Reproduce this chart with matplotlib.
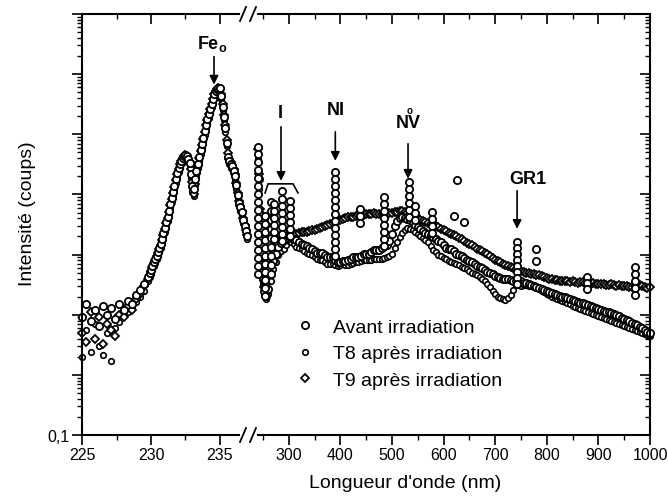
"""
Spectre de luminescence avant / apres irradiation, axe des longueurs d'onde coupe.
Sortie : out.png (668x502 px).
"""

import matplotlib

matplotlib.use("Agg")

import matplotlib.pyplot as plt
from matplotlib.lines import Line2D
from matplotlib.ticker import FixedLocator, FuncFormatter, LogLocator, NullFormatter

plt.rcParams["font.family"] = ["Liberation Sans", "DejaVu Sans"]
plt.rcParams["mathtext.fontset"] = "custom"
plt.rcParams["mathtext.rm"] = "Liberation Sans"
plt.rcParams["mathtext.bf"] = "Liberation Sans:bold"

SERIES_LABELS = ["Avant irradiation", "T8 après irradiation", "T9 après irradiation"]

# --- partie gauche de l'axe (225-237 nm) ---
wl_left = [225.0, 225.3, 225.6, 225.9, 226.2, 226.5, 226.8, 227.1, 227.4, 227.7,
           228.0, 228.3, 228.6, 228.9, 229.2, 229.5,
           229.8, 229.9, 230.0, 230.1, 230.2, 230.3, 230.4, 230.5, 230.6, 230.7,
           230.8, 230.9, 231.0, 231.1, 231.2, 231.3, 231.4, 231.5, 231.6, 231.7,
           231.8, 231.9, 232.0, 232.1, 232.2, 232.3, 232.4, 232.5, 232.6, 232.7,
           232.8, 232.9, 233.0, 233.1, 233.2, 233.3, 233.4, 233.5, 233.6, 233.7,
           233.8, 233.9, 234.0, 234.1, 234.2, 234.3, 234.4, 234.5, 234.6, 234.7,
           234.8, 234.9, 235.0, 235.1, 235.2, 235.3, 235.4, 235.5, 235.6, 235.7,
           235.8, 235.9, 236.0, 236.1, 236.2, 236.3, 236.4, 236.5, 236.6, 236.7,
           236.8, 236.9, 237.0]
avant_left = [9.0, 15, 8.0, 12, 6.5, 14, 10, 13, 8.5, 15,
              12, 17, 15, 21, 26, 33,
              43, 50, 56, 65, 76, 85, 96, 111, 127, 151,
              183, 230, 278, 350, 424, 533, 698, 878, 1105, 1390,
              1818, 2288, 2771, 3230, 3623, 4064, 4389, 4560, 4389, 3912,
              3356, 2202, 1390, 1239, 1818, 2470, 3230, 4223, 5524, 6948,
              8745, 11440, 14390, 18110, 21940, 26570, 32180, 38960, 47200, 52900,
              57200, 59400, 59400, 43700, 28680, 19560, 12830, 7222, 4223, 3623,
              3230, 2992, 2470, 2039, 1444, 985, 725, 622, 513, 378,
              300, 248, 205]
t8_left = [2.0, 5.5, 2.4, 7.0, 3.0, 2.1, 5.0, 1.7, 6.0, 7.5,
           10, 11, 13, 16, 20, 25,
           36, 42, 48, 56, 65, 73, 83, 95, 110, 130,
           158, 198, 240, 300, 365, 460, 600, 760, 950, 1200,
           1570, 1980, 2400, 2800, 3150, 3500, 3800, 3950, 3800, 3400,
           2900, 1900, 1150, 950, 1450, 2050, 2750, 3600, 4700, 5900,
           7500, 9800, 12400, 15600, 19000, 23000, 28000, 34000, 41000, 46500,
           50500, 52500, 52000, 38000, 25000, 17000, 11000, 6300, 3700, 3150,
           2800, 2600, 2150, 1770, 1250, 860, 630, 540, 445, 330,
           260, 215, 180]
t9_left = [5.0, 3.5, 11, 4.0, 9.0, 3.3, 7.0, 5.5, 4.4, 10,
           9.0, 14, 12, 18, 22, 30,
           40, 46, 54, 62, 72, 82, 94, 106, 122, 145,
           172, 215, 262, 330, 405, 505, 660, 840, 1060, 1330,
           1740, 2200, 2680, 3150, 3550, 4000, 4300, 4450, 4300, 3950,
           3500, 2600, 1600, 1000, 1500, 2200, 3000, 4000, 5300, 6700,
           8500, 11000, 14000, 17600, 21500, 26000, 31500, 38000, 46000, 52000,
           56500, 58500, 57000, 47000, 31500, 21000, 14000, 8000, 4800, 3900,
           3400, 3100, 2600, 2150, 1550, 1050, 780, 650, 540, 400,
           315, 260, 215]

# --- partie droite de l'axe (240-1000 nm) ---
wl_right = [240, 242, 244, 246, 248, 250, 253, 256, 260, 265, 270, 275, 280, 285, 290, 295,
            300, 305, 310, 315, 320, 325, 330, 335, 340, 345,
            350, 355, 360, 365, 370, 375, 380, 385, 390, 395,
            400, 405, 410, 415, 420, 425, 430, 435, 440, 445,
            450, 455, 460, 465, 470, 475, 480, 485, 490, 495,
            500, 505, 510, 515, 520, 525, 530, 535, 540, 545,
            550, 555, 560, 565, 570, 575, 580, 585, 590, 595,
            600, 605, 610, 615, 620, 625, 630, 635, 640, 645,
            650, 655, 660, 665, 670, 675, 680, 685, 690, 695,
            700, 705, 710, 715, 720, 725, 730, 735, 740, 745,
            750, 755, 760, 765, 770, 775, 780, 785, 790, 795,
            800, 805, 810, 815, 820, 825, 830, 835, 840, 845,
            850, 855, 860, 865, 870, 875, 880, 885, 890, 895,
            900, 905, 910, 915, 920, 925, 930, 935, 940, 945,
            950, 955, 960, 965, 970, 975, 980, 985, 990, 995,
            1000]
avant_right = [6190, 1820, 475, 150, 70, 39, 25, 20.5, 27, 48, 78, 103, 134, 156, 175, 189,
               204, 186, 182, 178, 162, 148, 145, 140, 129, 124,
               115, 108, 107, 106, 99, 92, 91, 90, 82, 76,
               75, 79, 78, 80, 85, 90, 91, 90, 95, 102,
               103, 104, 111, 118, 119, 121, 129, 140, 145, 170,
               221, 300, 363, 400, 423, 410, 392, 370, 336, 305,
               289, 270, 248, 232, 221, 212, 197, 180, 169, 160,
               145, 130, 124, 122, 115, 104, 99, 95, 88, 82,
               78, 75, 70, 65, 62, 60, 56, 51, 49, 47,
               44, 42, 41, 39, 39, 39, 38, 36, 36, 37,
               36, 34, 34, 33, 31, 30, 29, 28, 27, 26,
               25, 24, 23, 22.5, 21.3, 20.3, 19.7, 19.5, 19.0, 18.0,
               17.6, 17.2, 16.3, 15.8, 15.6, 15.0, 14.5, 14.0, 13.4, 12.8,
               12.4, 12.0, 11.5, 11.3, 11.1, 10.5, 10.2, 10.0, 9.5, 8.9,
               8.5, 8.3, 7.9, 7.4, 7.0, 6.7, 6.3, 6.0, 5.6, 5.2,
               5.0]
t8_right = [3910, 1240, 336, 107, 53, 32, 22, 18.3, 22, 36, 58, 75, 99, 115, 124, 145,
            169, 162, 150, 136, 129, 124, 115, 106, 103, 98,
            91, 85, 82, 80, 75, 71, 70, 69, 67, 65,
            67, 69, 67, 66, 70, 73, 75, 75, 78, 81,
            82, 80, 82, 86, 85, 83, 85, 89, 91, 95,
            103, 128, 162, 196, 229, 260, 278, 270, 257, 240,
            221, 205, 189, 175, 162, 140, 120, 110, 100, 93,
            88, 84, 78, 75, 73, 70, 67, 63, 60, 57,
            53, 50, 48, 45, 42, 39, 36, 33, 29, 25,
            22, 20, 19.0, 18.0, 17.6, 19.0, 21.3, 26, 31, 31,
            30, 31, 31, 30, 30, 29, 28, 27, 25, 23.5,
            22, 21, 19.7, 19.0, 18.3, 17.5, 16.9, 16.3, 15.6, 14.8,
            13.9, 13.4, 12.9, 12.4, 11.9, 11.5, 11.1, 10.6, 10.2, 9.9,
            9.5, 9.1, 8.8, 8.5, 8.2, 7.9, 7.6, 7.3, 7.0, 6.8,
            6.5, 6.2, 6.0, 5.8, 5.6, 5.4, 5.2, 5.0, 4.8, 4.6,
            4.4]
t9_right = [5740, 2200, 576, 182, 78, 42, 29, 32, 48, 78, 115, 150, 182, 204, 221, 229,
            218, 224, 221, 222, 229, 236, 238, 240, 248, 255,
            257, 265, 278, 285, 300, 315, 324, 330, 349, 365,
            377, 390, 407, 420, 423, 425, 440, 455, 457, 462,
            475, 478, 470, 482, 480, 470, 468, 480, 485, 488,
            494, 505, 513, 530, 533, 515, 494, 470, 440, 425,
            407, 380, 363, 352, 336, 320, 311, 302, 289, 270,
            257, 243, 229, 220, 212, 200, 189, 180, 169, 158,
            150, 142, 134, 126, 119, 113, 107, 101, 95, 88,
            82, 79, 75, 71, 67, 64, 62, 60, 58, 55,
            53, 51, 49, 49, 48, 47, 46, 45, 44, 42,
            41, 40, 39, 38, 38, 37, 36, 36, 36, 35,
            36, 35, 34, 35, 35, 34, 34, 33, 34, 33,
            32, 32, 32, 31, 31, 32, 31, 30, 31, 30,
            30, 30, 29, 29, 30, 31, 31, 30, 29, 28,
            29]

# raies fines du spectre "avant" : points empiles a une meme longueur d'onde
stack_wl = [241, 255, 265, 272, 287, 302, 390, 439, 485, 533, 545, 578,
            620, 627, 640, 743, 780, 878, 970]
stack_counts = [
    [4740, 3490, 2570, 1890, 1390, 1020, 753, 554, 407, 300, 221, 162, 119, 88, 65, 48],
    [440, 324, 238, 175, 129, 95, 70, 51, 38, 28, 20.5],
    [753, 533, 377, 267, 189, 134, 95, 67, 48],
    [697, 533, 407, 311, 238, 182],
    [1150, 845, 646, 494, 377, 289, 221, 169],
    [783, 598, 457, 349, 267, 204],
    [2380, 1820, 1390, 1060, 813, 621, 475, 363, 278, 212, 162, 124, 95],
    [576, 440, 336],
    [912, 697, 533, 407, 311, 238, 182, 139],
    [1620, 1240, 948, 725, 554, 423],
    [646, 494, 377],
    [513, 392, 300, 229],
    [440],
    [1750],
    [349],
    [162, 127, 103, 82, 65, 51, 41, 32],
    [124, 78],
    [42, 34, 27],
    [62, 48, 36, 28, 21.3],
]

x_ticks_left = [225, 230, 235]
x_minor_left = [227.5, 232.5]
x_ticks_right = [300, 400, 500, 600, 700, 800, 900, 1000]
x_minor_right = [250, 350, 450, 550, 650, 750, 850, 950]

W, H = 668, 502


def _fig_xy(px: float, py: float) -> tuple[float, float]:
    """Pixel (origine en haut a gauche) -> coordonnees figure."""
    return px / W, 1 - py / H


def _style_x(ax, major, minor, lo: float, hi: float) -> None:
    """Graduations x : vers l'exterieur en bas, vers l'interieur en haut."""
    ax.set_xticks(major)
    ax.xaxis.set_minor_locator(FixedLocator(minor))
    ax.tick_params(axis="x", which="major", direction="out", length=7, width=1.2,
                   top=False, labelsize=11.5, pad=2)
    ax.tick_params(axis="x", which="minor", direction="out", length=3.5, width=1.0, top=False)
    ax.spines["top"].set_visible(False)
    ax.spines["bottom"].set_bounds(lo, hi)

    sec = ax.secondary_xaxis("top")
    sec.set_xticks(major)
    sec.xaxis.set_minor_locator(FixedLocator(minor))
    sec.xaxis.set_major_formatter(NullFormatter())
    sec.tick_params(axis="x", which="major", direction="in", length=7, width=1.2)
    sec.tick_params(axis="x", which="minor", direction="in", length=3.5, width=1.0)
    sec.spines["top"].set_bounds(lo, hi)
    sec.spines["top"].set_linewidth(1.5)


def _plot_series(ax, wl, avant, t8, t9):
    kw = dict(ls="none", mfc="white", mec="black", clip_on=False)
    h8, = ax.plot(wl, t8, marker="o", ms=4.0, mew=1.2, label=SERIES_LABELS[1], **kw)
    h9, = ax.plot(wl, t9, marker="D", ms=4.2, mew=1.3, label=SERIES_LABELS[2], **kw)
    ha, = ax.plot(wl, avant, marker="o", ms=5.2, mew=1.3, label=SERIES_LABELS[0], **kw)
    return ha, h8, h9


def _arrow(ax, x: float, y_tail: float, y_tip: float) -> None:
    ax.annotate("", xy=(x, y_tip), xytext=(x, y_tail),
                arrowprops=dict(arrowstyle="-|>", color="black", lw=1.2,
                                mutation_scale=13, shrinkA=0, shrinkB=0))


def main() -> None:
    fig = plt.figure(figsize=(W / 100, H / 100), dpi=100)
    x0, y0 = _fig_xy(82.3, 436)
    x1, _ = _fig_xy(250, 436)
    x2, _ = _fig_xy(252, 436)
    x3, y3 = _fig_xy(650, 15)
    ax_l = fig.add_axes([x0, y0, x1 - x0, y3 - y0])
    ax_r = fig.add_axes([x2, y0, x3 - x2, y3 - y0], sharey=ax_l)

    for ax in (ax_l, ax_r):
        for sp in ax.spines.values():
            sp.set_linewidth(1.5)

    # axe y logarithmique, seul 0,1 est annote
    ax_l.set_yscale("log")
    ax_l.set_ylim(0.1, 1e6)
    ax_l.yaxis.set_major_locator(LogLocator(base=10, numticks=15))
    ax_l.yaxis.set_minor_locator(LogLocator(base=10, subs=range(2, 10), numticks=15))
    ax_l.yaxis.set_major_formatter(FuncFormatter(lambda v, _: "0,1" if abs(v - 0.1) < 1e-9 else ""))
    ax_l.yaxis.set_minor_formatter(NullFormatter())
    ax_l.tick_params(axis="y", which="major", direction="out", length=7, width=1.2,
                     right=False, labelsize=11.5, pad=2)
    ax_l.tick_params(axis="y", which="minor", direction="out", length=3.5, width=1.0, right=False)
    ax_l.spines["right"].set_visible(False)

    ax_r.spines["left"].set_visible(False)
    ax_r.tick_params(axis="y", which="both", left=False, right=True, direction="in",
                     labelleft=False, labelright=False)
    ax_r.tick_params(axis="y", which="major", length=7, width=1.2)
    ax_r.tick_params(axis="y", which="minor", length=3.5, width=1.0)

    ax_l.set_xlim(225, 237.2)
    ax_r.set_xlim(228.9, 1000)
    _style_x(ax_l, x_ticks_left, x_minor_left, 225, 236.4)
    _style_x(ax_r, x_ticks_right, x_minor_right, 240.5, 1000)

    _plot_series(ax_l, wl_left, avant_left, t8_left, t9_left)
    handles = _plot_series(ax_r, wl_right, avant_right, t8_right, t9_right)
    for wl, counts in zip(stack_wl, stack_counts):
        ax_r.plot([wl] * len(counts), counts, ls="none", marker="o", ms=5.2, mew=1.3,
                  mfc="white", mec="black")

    # marques de coupure //
    for py in (15, 436):
        for px in (240, 250):
            xa, ya = _fig_xy(px, py + 7)
            xb, yb = _fig_xy(px + 6, py - 7)
            fig.add_artist(Line2D([xa, xb], [ya, yb], color="black", lw=1.3))

    # annotations des centres
    bold = dict(ha="center", va="center", fontsize=13, fontweight="bold")
    ax_l.text(234.45, 3.3e5, r"$\mathbf{Fe_{o}}$", ha="center", va="center", fontsize=13)
    _arrow(ax_l, 234.58, 1.95e5, 6.7e4)

    ax_r.text(283.3, 2.28e4, "I", **bold)
    _arrow(ax_r, 285.1, 1.33e4, 1.68e3)
    ax_r.plot([254.3, 260, 308.3, 318], [1060, 1500, 1500, 1060], color="black", lw=1.2)

    ax_r.text(391.7, 2.56e4, "NI", **bold)
    _arrow(ax_r, 390.3, 1.1e4, 3.62e3)

    ax_r.text(531.2, 1.55e4, "NV", **bold)
    ax_r.text(535.0, 2.5e4, "o", ha="center", va="center", fontsize=7, fontweight="bold")
    _arrow(ax_r, 531.2, 6.95e3, 1.82e3)

    ax_r.text(763.8, 1.82e3, "GR1", **bold)
    _arrow(ax_r, 742.5, 1.15e3, 267)

    lx, ly = _fig_xy(295, 319)
    fig.legend(handles=handles, labels=SERIES_LABELS, loc="upper left",
               bbox_to_anchor=(lx, ly), frameon=False, fontsize=14,
               borderpad=0, borderaxespad=0, handlelength=1.0,
               handletextpad=0.95, labelspacing=0.47, markerscale=1.0)

    tx, ty = _fig_xy(405, 484)
    fig.text(tx, ty, "Longueur d'onde (nm)", ha="center", va="center", fontsize=14)
    tx, ty = _fig_xy(27, 214)
    fig.text(tx, ty, "Intensité (coups)", ha="center", va="center", rotation=90, fontsize=14)

    fig.savefig("out.png", dpi=100)
    plt.close(fig)


if __name__ == "__main__":
    main()
